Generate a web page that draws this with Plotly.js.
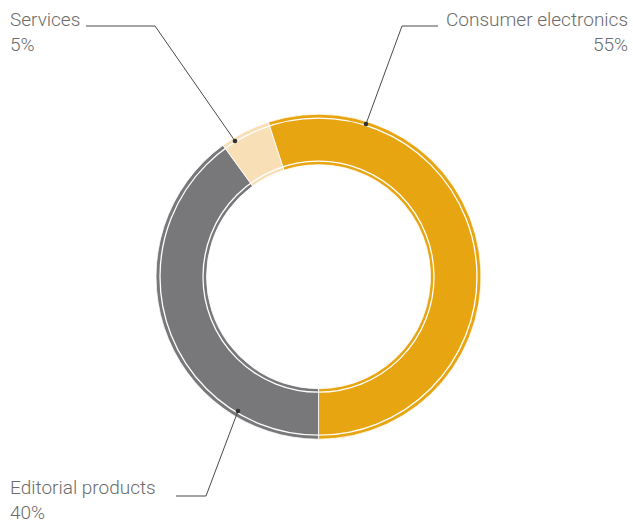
<!DOCTYPE html>
<html>
<head>
<meta charset="utf-8">
<script src="https://cdn.plot.ly/plotly-3.0.1.min.js"></script>
<style>html,body{margin:0;padding:0;background:#fff;}#chart{width:633px;height:525px;}</style>
</head>
<body>
<div id="chart"></div>
<script>
// ---- data ----
const categories = ["Consumer electronics", "Editorial products", "Services"];
const shares = [55, 40, 5];
const colors = ["#E8A512", "#78787B", "#F8DFB6"];

// ---- layout helpers (pixel -> paper) ----
const W = 633, H = 525;
const cx = 318.5, cy = 276.7, R = 162.5, Rin = 112;
const px = x => x / W;
const py = y => 1 - y / H;

const pie = {
  type: "pie",
  values: shares,
  labels: categories,
  sort: false,
  direction: "clockwise",
  rotation: -18,
  hole: Rin / R,
  textinfo: "none",
  hoverinfo: "label+percent",
  marker: { colors: colors, line: { color: "#ffffff", width: 0.8 } },
  domain: { x: [px(cx - R), px(cx + R)], y: [py(cy + R), py(cy - R)] },
  showlegend: false
};

function ring(r) {
  return { type: "circle", xref: "paper", yref: "paper",
    x0: px(cx - r), x1: px(cx + r), y0: py(cy + r), y1: py(cy - r),
    line: { color: "#ffffff", width: 1.3 }, layer: "above" };
}
function path(pts) {
  return { type: "path", xref: "paper", yref: "paper",
    path: pts.map((p, i) => (i ? "L" : "M") + px(p[0]) + "," + py(p[1])).join(" "),
    line: { color: "#4a4a4a", width: 1 } };
}
function dot(x, y) {
  const r = 2.3;
  return { type: "circle", xref: "paper", yref: "paper",
    x0: px(x - r), x1: px(x + r), y0: py(y + r), y1: py(y - r),
    fillcolor: "#333333", line: { width: 0 } };
}

// label placement (pixels)
const labelPos = {
  "Consumer electronics": { x: 629, y: 7, anchor: "right", yanchor: "top",
    pts: [[438, 26], [402, 26], [366, 124]], dot: [366, 124] },
  "Editorial products": { x: 9, y: 525, anchor: "left", yanchor: "bottom",
    pts: [[176, 496], [206, 496], [238, 411]], dot: [238, 411] },
  "Services": { x: 9, y: 7, anchor: "left", yanchor: "top",
    pts: [[86, 26], [155, 26], [235, 141]], dot: [235, 141] }
};

const font = { family: "Roboto, 'Liberation Sans', sans-serif", size: 19, color: "#6b6b6b", weight: 300 };
const annotations = [];
const shapes = [ring(158.5), ring(115.5)];
categories.forEach((c, i) => {
  const p = labelPos[c];
  annotations.push({ xref: "paper", yref: "paper", x: px(p.x), y: py(p.y),
    text: c + "<br>" + shares[i] + "%", align: p.anchor,
    xanchor: p.anchor, yanchor: p.yanchor, showarrow: false, font: font, borderpad: 0 });
  shapes.push(path(p.pts));
  shapes.push(dot(p.dot[0], p.dot[1]));
});

Plotly.newPlot("chart", [pie], {
  width: W, height: H, autosize: false,
  margin: { l: 0, r: 0, t: 0, b: 0 },
  paper_bgcolor: "#ffffff", plot_bgcolor: "#ffffff",
  annotations: annotations, shapes: shapes
}, { displayModeBar: false, staticPlot: true });
</script>
</body>
</html>
